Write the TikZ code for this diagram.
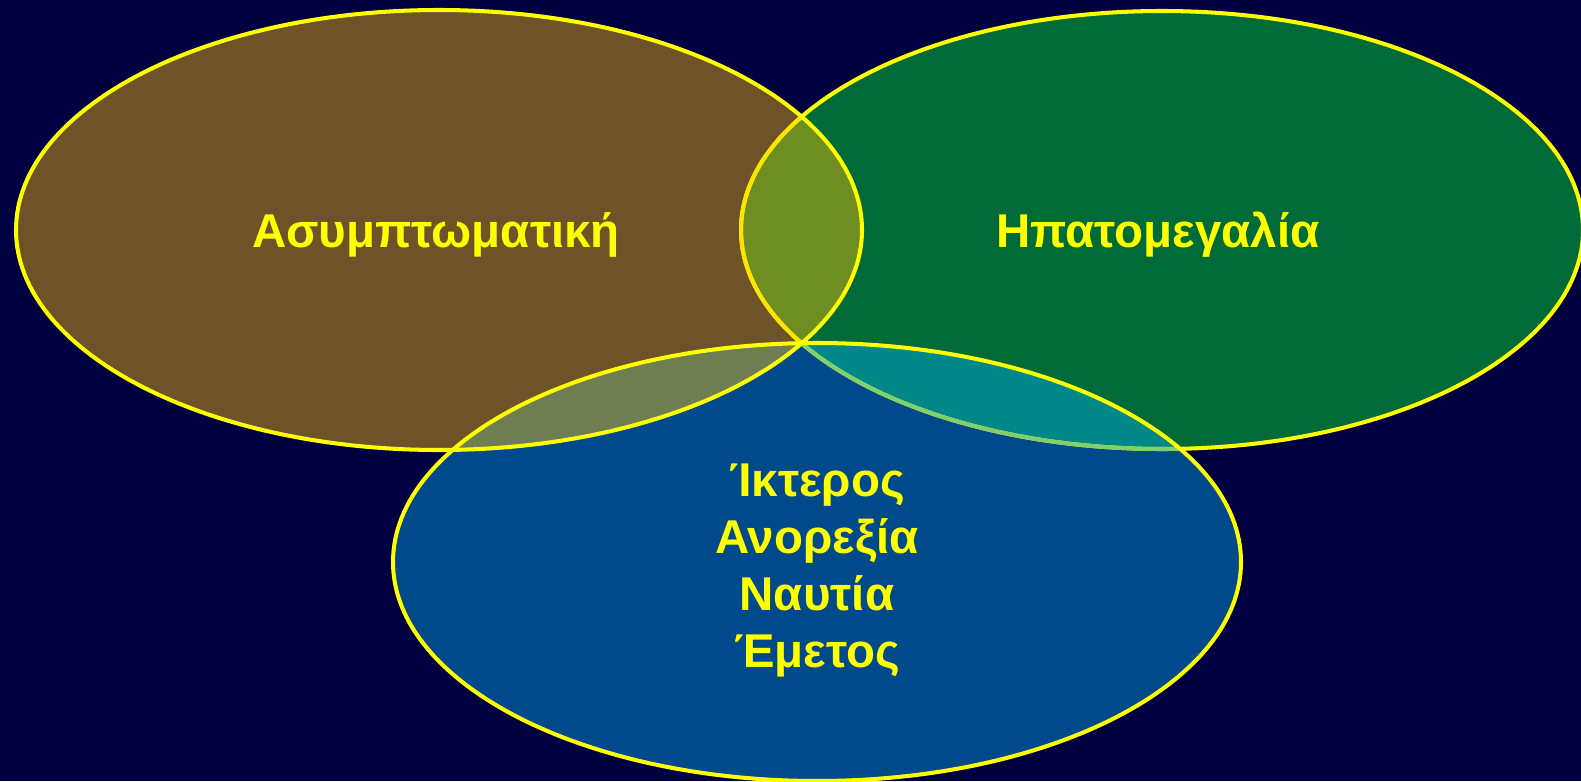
\documentclass[tikz,border=0pt]{standalone}
\usepackage{fontspec}
\setmainfont{Liberation Sans}
\definecolor{bgnavy}{HTML}{000040}
\definecolor{vbrown}{HTML}{6E5228}
\definecolor{vgreen}{HTML}{006A38}
\definecolor{vblue}{HTML}{004A8C}
\definecolor{vbrowngreen}{HTML}{6F8E22}
\definecolor{vbrownblue}{HTML}{6E7E52}
\definecolor{vgreenblue}{HTML}{008888}
\definecolor{edgegreen}{HTML}{80D070}
\definecolor{edgegold}{HTML}{FFE400}
\definecolor{vyellow}{HTML}{FFFF00}
\tikzset{
  brownell/.style={insert path={(439,230) ellipse [x radius=423, y radius=220]}},
  greenell/.style={insert path={(1162,230) ellipse [x radius=421, y radius=219]}},
  blueell/.style={insert path={(817,562) ellipse [x radius=424, y radius=219]}},
  rim/.style={draw=vyellow, line width=2.3pt},
  label/.style={text=vyellow, font=\fontsize{27}{32}\selectfont\bfseries, inner sep=0pt},
}
\begin{document}
\begin{tikzpicture}[x=0.02cm, y=-0.02cm]
% background
\fill[bgnavy] (0,0) rectangle (1581,781);
\useasboundingbox (0,0) rectangle (1581,781);
% ellipse fills
\fill[vbrown, brownell];
\fill[vgreen, greenell];
\fill[vblue, blueell];
% overlaps
\begin{scope}
\clip[brownell];
\fill[vbrowngreen, greenell];
\fill[vbrownblue, blueell];
\end{scope}
\begin{scope}
\clip[greenell];
\fill[vgreenblue, blueell];
\end{scope}
% outlines
\draw[rim, greenell];
\begin{scope}
\clip[blueell];
\draw[rim, draw=edgegreen, greenell];
\end{scope}
\begin{scope}
\clip[brownell];
\draw[rim, draw=edgegold, greenell];
\end{scope}
\draw[rim, blueell];
\draw[rim, brownell];
% labels
\node[label, anchor=base] (asym) at (436,247) {Ασυμπτωματική};
\node[label, anchor=base] (hpato) at (1158,247) {Ηπατομεγαλία};
\node[label, anchor=base] (ikt) at (817,496) {Ίκτερος};
\node[label, anchor=base] (anor) at (817,553) {Ανορεξία};
\node[label, anchor=base] (naut) at (817,610) {Ναυτία};
\node[label, anchor=base] (emet) at (817,667) {Έμετος};
\end{tikzpicture}
\end{document}
